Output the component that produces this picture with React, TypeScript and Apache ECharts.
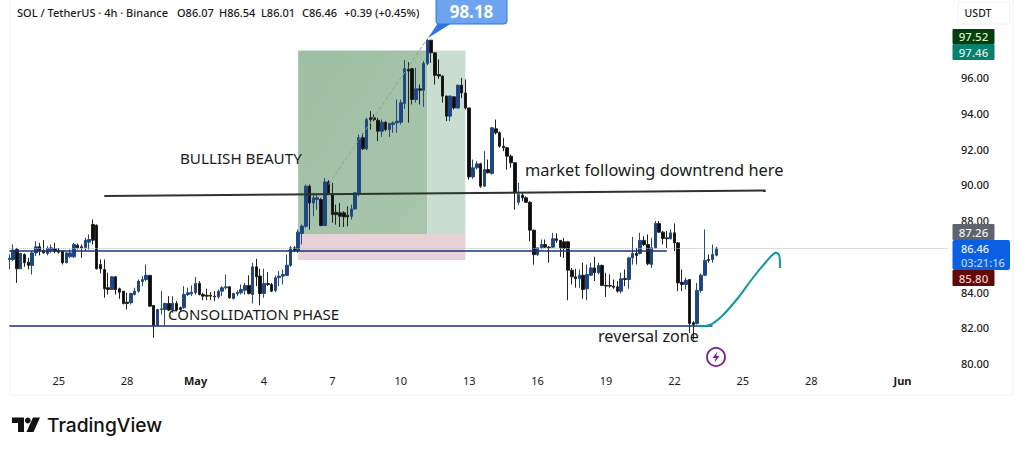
import React, { useEffect, useRef } from "react";
import * as echarts from "echarts";

const FONT = "'Noto Sans', sans-serif";
// [open, close, low, high]
const candles: number[][] = [
[85.83,85.91,85.27,86.11],[85.83,86.35,85.74,86.67],[86.39,85.31,84.52,86.48],[85.31,86.17,85.31,86.21],[86.11,85.65,85.42,86.17],[85.68,85.50,85.27,85.92],[85.50,86.20,84.99,86.30],[86.20,86.54,86.02,86.86],[86.54,86.30,86.06,86.76],[86.34,86.20,86.17,86.91],
[86.17,86.45,86.06,86.58],[86.35,86.48,86.20,86.67],[86.43,86.30,86.17,86.76],[86.35,86.24,86.17,86.48],[86.30,85.65,85.55,86.35],[85.65,86.20,85.61,86.24],[85.98,86.20,85.92,86.39],[85.98,86.67,85.92,86.76],[86.63,86.48,86.39,86.73],[86.54,86.48,85.92,86.67],
[86.48,86.91,86.30,87.04],[86.80,86.95,86.39,87.23],[87.79,86.91,86.67,88.07],[87.75,85.31,85.27,87.79],[85.55,85.31,85.05,85.83],[85.27,84.19,83.69,85.83],[84.25,84.15,83.87,85.09],[84.15,84.86,84.15,84.90],[84.86,84.15,83.87,84.90],[84.19,84.00,83.63,84.25],
[84.06,83.37,83.31,84.06],[83.44,83.37,83.03,83.97],[83.41,83.93,83.31,83.97],[83.87,84.06,83.82,84.25],[84.06,84.62,83.97,84.71],[84.60,84.71,84.34,84.90],[84.71,84.95,84.62,85.55],[84.94,83.22,83.18,84.94],[83.26,82.14,81.45,83.26],[82.14,83.03,82.14,83.07],
[83.03,83.07,82.75,84.06],[83.03,83.37,82.14,83.41],[83.37,83.00,82.94,83.78],[83.00,83.37,82.85,83.78],[83.37,83.00,82.94,83.50],[83.13,83.03,82.96,83.20],[83.13,83.87,83.07,84.34],[83.87,83.97,83.78,84.25],[83.91,84.00,83.78,84.38],[83.97,84.49,83.87,84.86],
[84.49,83.87,83.82,84.62],[83.87,83.78,83.55,83.97],[83.83,83.78,83.55,84.19],[83.83,83.78,83.55,84.00],[83.78,83.74,83.50,84.06],[83.74,84.06,83.63,84.15],[84.06,84.25,83.78,84.34],[84.25,84.30,84.15,84.99],[84.30,83.69,83.63,84.34],[83.65,83.93,83.59,83.97],
[83.91,84.00,83.78,84.11],[83.97,84.15,83.87,84.43],[84.11,84.38,83.87,84.52],[84.38,83.93,83.87,84.94],[83.87,85.42,83.37,85.65],[85.42,84.86,84.34,85.87],[84.90,83.93,83.26,85.31],[83.93,84.49,83.69,85.31],[84.49,84.43,84.34,85.12],[84.43,84.06,84.00,84.52],
[84.10,84.81,84.00,84.94],[84.81,84.90,84.34,85.18],[84.90,84.99,84.43,85.27],[84.94,85.51,84.90,86.11],[85.50,86.48,85.42,86.58],[86.48,86.30,86.24,86.58],[86.30,87.36,86.20,87.51],[87.29,87.70,86.67,87.79],[87.69,89.93,87.60,90.02],[89.93,88.99,87.50,90.02],
[88.99,89.28,88.25,89.56],[89.18,89.28,88.62,89.56],[89.18,87.73,87.69,89.28],[87.73,90.17,87.69,90.39],[90.17,89.52,89.46,90.27],[89.52,88.34,87.88,90.12],[88.47,88.34,87.78,88.90],[88.44,88.25,87.65,88.99],[88.44,88.21,87.65,88.53],[88.31,88.21,87.69,88.81],
[88.25,88.66,88.06,88.90],[88.66,89.56,88.62,89.59],[89.56,92.64,89.37,92.82],[92.64,92.02,91.95,92.90],[92.02,93.66,91.95,93.76],[93.76,93.66,93.10,94.13],[93.76,93.66,93.57,93.94],[93.62,93.01,92.45,93.76],[93.01,93.51,92.69,93.66],[93.51,93.10,93.01,93.57],
[93.10,93.44,92.69,93.47],[93.38,93.47,92.92,93.57],[93.47,93.57,92.92,94.78],[93.51,94.60,93.38,94.78],[94.56,96.50,94.26,96.98],[96.46,96.37,93.48,96.87],[96.50,94.78,94.50,96.55],[94.78,95.38,94.60,96.55],[95.38,95.30,94.50,95.62],[95.30,96.80,94.37,96.93],
[96.80,98.10,96.70,98.18],[98.10,97.39,96.83,98.10],[97.39,96.13,95.62,97.43],[96.18,96.09,95.94,97.02],[96.09,94.97,94.60,96.13],[94.97,93.85,93.57,95.00],[93.85,94.97,93.57,95.00],[94.93,94.31,94.22,94.97],[94.31,95.58,94.26,95.62],[95.58,95.15,94.87,95.99],
[95.15,94.31,94.22,95.90],[94.31,90.45,90.30,94.31],[90.45,90.96,90.34,91.42],[90.96,91.18,90.86,91.33],[91.18,89.93,89.84,91.24],[89.93,90.86,89.89,91.89],[90.86,90.68,90.64,91.42],[90.64,93.20,90.58,93.25],[93.14,92.92,92.82,93.66],[92.92,92.17,92.08,93.01],
[92.17,92.08,91.89,92.64],[92.08,91.61,90.86,92.13],[91.61,91.24,90.96,91.70],[91.24,89.56,88.62,91.28],[89.03,89.46,88.90,90.12],[89.43,89.28,89.09,89.56],[89.28,89.03,88.99,89.37],[89.03,87.47,86.85,89.09],[87.47,86.10,85.54,87.50],[86.11,86.48,86.02,86.48],
[86.48,86.67,86.39,86.95],[86.67,86.52,86.48,86.95],[86.52,86.48,85.65,86.58],[86.52,86.99,86.48,87.32],[86.99,86.90,86.76,87.29],[86.90,86.48,85.98,86.91],[86.82,86.45,85.92,87.04],[86.82,85.23,83.55,86.86],[85.23,84.86,84.43,85.36],[84.86,84.75,84.25,85.31],
[84.75,84.95,84.25,85.27],[84.95,84.15,83.63,85.65],[84.19,84.99,83.55,85.55],[84.95,85.36,84.90,85.65],[85.36,85.09,84.62,85.98],[85.09,85.50,85.00,85.65],[85.50,84.38,84.34,85.55],[84.38,84.34,83.74,85.09],[84.38,84.34,84.25,85.00],[84.34,84.28,84.19,84.71],
[84.30,84.06,83.97,84.62],[84.06,84.75,83.93,85.09],[84.77,84.71,84.34,85.27],[84.71,85.92,84.19,85.98],[85.92,86.17,85.55,87.10],[86.17,86.06,85.55,86.48],[86.17,86.90,86.11,87.32],[86.90,86.67,86.58,87.14],[86.67,85.59,85.50,87.23],[85.55,86.48,85.36,87.04],
[86.48,87.85,86.45,87.98],[87.85,87.36,87.32,87.98],[87.36,87.01,86.67,87.42],[87.04,86.99,86.48,87.42],[86.99,87.32,86.95,87.51],[87.32,86.76,86.30,87.85],[86.76,84.52,84.06,86.80],[84.56,84.43,84.06,85.27],[84.43,84.67,84.15,84.81],[84.71,82.25,81.73,84.71],
[82.29,82.19,81.35,82.38],[82.25,84.10,82.19,84.52],[84.10,84.95,83.97,85.05],[84.95,85.78,84.90,87.51],[85.83,85.78,85.65,86.11],[85.83,86.11,85.65,86.67],[86.07,86.46,86.01,86.54],
];

const SLOTS = 248;
const tickIndexes = [13, 31, 49, 67, 85, 103, 121, 139, 157, 175, 193, 211, 235];
const tickLabels = ["25", "28", "May", "4", "7", "10", "13", "16", "19", "22", "25", "28", "Jun"];
const categories = Array.from({ length: SLOTS }, (_, i) => {
  const t = tickIndexes.indexOf(i);
  return t >= 0 ? tickLabels[t] : String(i);
});

const targetHigh = 97.52;
const entry = 87.26;
const stop = 85.8;
const lastPrice = 86.46;
const supportUpper = 86.34;
const supportLower = 82.14;
const trendFrom = 89.38;
const trendTo = 89.69;
const pathFrom = 90.03;
const pathTo = 98.18;
const hiddenPriceTicks = [86, 98, 100];

export default function App() {
  const ref = useRef<HTMLDivElement>(null);
  useEffect(() => {
    const chart = echarts.init(ref.current!, null, { renderer: "svg" });
    const txt = (text: string, x: number, y: number, fontSize: number, extra: any = {}) => ({
      type: "text", x, y, z: 50,
      style: { text, fontSize, fontFamily: FONT, fill: "#1a1a1a", textVerticalAlign: "middle", verticalAlign: "middle", ...extra },
    });
    const tag = (label: string, y: number, h: number, fill: string, color: string, w = 42) => ([
      { type: "rect", z: 40, shape: { x: 952.5, y, width: w, height: h, r: 1 }, style: { fill } },
      txt(label, 973.5, y + h / 2, 11.5, { fill: color, align: "center", textAlign: "center", fontWeight: 500 }),
    ]);
    chart.setOption({
      animation: false,
      backgroundColor: "#ffffff",
      grid: { left: 7.4, right: 74, top: 6.2, bottom: 89.3 },
      xAxis: {
        type: "category",
        data: categories,
        boundaryGap: true,
        axisLine: { show: false },
        axisTick: { show: false },
        splitLine: { show: false },
        axisLabel: {
          interval: (i: number) => tickIndexes.includes(i),
          margin: 11.5,
          fontFamily: FONT,
          fontSize: 11,
          color: "#1a1a1a",
          formatter: (v: string) => (v === "May" || v === "Jun" ? `{b|${v}}` : v),
          rich: { b: { fontFamily: FONT, fontSize: 11, fontWeight: 700, color: "#1a1a1a" } },
        },
      },
      yAxis: {
        type: "value",
        position: "right",
        min: 80,
        max: 100,
        interval: 2,
        axisLine: { show: false },
        axisTick: { show: false },
        splitLine: { show: false },
        axisLabel: {
          margin: 11,
          fontFamily: FONT,
          fontSize: 11,
          fontWeight: 500,
          color: "#1a1a1a",
          formatter: (v: number) => (hiddenPriceTicks.includes(v) ? "" : v.toFixed(2)),
        },
      },
      series: [
        {
          type: "candlestick",
          data: candles,
          barWidth: 3,
          itemStyle: { color: "#1b4585", color0: "#0c0c0c", borderColor: "#234a86", borderColor0: "#222222", borderWidth: 1 },
          markArea: {
            silent: true,
            z: 1,
            data: [
              [{
                coord: [76, targetHigh],
                itemStyle: { color: { type: "linear", x: 0, y: 0, x2: 1, y2: 1, colorStops: [{ offset: 0, color: "#9ebfa3" }, { offset: 1, color: "#a9c6ac" }] } },
              }, { coord: [110, entry] }],
              [{ coord: [110, targetHigh], itemStyle: { color: "#c9ddd0" } }, { coord: [120, entry] }],
              [{ coord: [76, entry], itemStyle: { color: "#e9d2d7" } }, { coord: [120, stop] }],
            ],
          },
          markLine: {
            silent: true,
            symbol: "none",
            label: { show: false },
            data: [
              [{ coord: [0, lastPrice], lineStyle: { color: "#b9bfc4", width: 1, type: "dotted" } }, { coord: [247, lastPrice] }],
              [{ coord: [0, supportUpper], lineStyle: { color: "#1d2f7e", width: 1.6, type: "solid" } }, { coord: [173, supportUpper] }],
              [{ coord: [0, supportLower], lineStyle: { color: "#1d2f7e", width: 1.6, type: "solid" } }, { coord: [185, supportLower] }],
              [{ coord: [25, trendFrom], lineStyle: { color: "#2b352d", width: 2, type: "solid" } }, { coord: [199, trendTo] }],
              [{ coord: [84, pathFrom], lineStyle: { color: "#8aa88d", width: 1, type: "dashed" } }, { coord: [110, pathTo] }],
            ],
          },
        },
      ],
      graphic: [
        { type: "rect", z: 0, silent: true, shape: { x: 10, y: -2, width: 1003, height: 397 }, style: { fill: "none", stroke: "#f3f3f3", lineWidth: 1 } },
        txt("SOL / TetherUS · 4h · Binance", 17, 12, 11, { fontWeight: 500 }),
        txt("O86.07", 177, 12, 11, { fontWeight: 500 }),
        txt("H86.54", 219, 12, 11, { fontWeight: 500 }),
        txt("L86.01", 261, 12, 11, { fontWeight: 500 }),
        txt("C86.46", 302, 12, 11, { fontWeight: 500 }),
        txt("+0.39 (+0.45%)", 344, 12, 11, { fontWeight: 500 }),
        { type: "polygon", z: 40, shape: { points: [[428, 38], [440, 20], [452, 23]] }, style: { fill: "#2e74e6" } },
        { type: "rect", z: 41, shape: { x: 436, y: -4, width: 71, height: 28, r: 3 }, style: { fill: "#6ea4ef", stroke: "#2e74e6", lineWidth: 1 } },
        txt("98.18", 471.5, 11, 17, { fill: "#ffffff", align: "center", textAlign: "center", fontWeight: 700 }),
        { type: "rect", z: 40, shape: { x: 958, y: 2, width: 52, height: 22, r: 2 }, style: { fill: "#ffffff", stroke: "#f0f0f0" } },
        txt("USDT", 978, 13, 10.5, { align: "center", textAlign: "center", fontWeight: 500 }),
        ...tag("97.52", 29, 15, "#063d0c", "#d8f0c8"),
        ...tag("97.46", 44, 16, "#0a7f6b", "#d5f5ec"),
        ...tag("87.26", 224, 16, "#5f636e", "#eef0f2"),
        { type: "rect", z: 41, shape: { x: 952.5, y: 240, width: 57.5, height: 30, r: 2 }, style: { fill: "#0b5fe3" } },
        txt("86.46", 961, 248.5, 11, { fill: "#e8f1ff", fontWeight: 500 }),
        txt("03:21:16", 961, 262, 11, { fill: "#b9d4ff", fontWeight: 500 }),
        ...tag("85.80", 270, 16, "#5f0909", "#f6cccc"),
        txt("BULLISH BEAUTY", 180, 158, 15.2),
        txt("market following downtrend here", 525, 169, 16.4),
        txt("CONSOLIDATION PHASE", 168, 314, 15),
        txt("reversal zone", 598, 336, 16.2),
        {
          type: "polyline", z: 45,
          shape: { smooth: 0.35, points: [[698, 326], [710, 325], [722, 316], [738, 298], [752, 279], [766, 262], [775, 253], [779, 255], [780, 268]] },
          style: { fill: "none", stroke: "#0c9aa0", lineWidth: 2 },
        },
        { type: "circle", z: 45, shape: { cx: 716, cy: 357, r: 9 }, style: { fill: "#fff", stroke: "#7a1f8f", lineWidth: 1.8 } },
        { type: "polygon", z: 46, shape: { points: [[717.5, 351.5], [712.5, 358], [715.8, 358], [714.5, 362.5], [719.5, 356], [716.2, 356]] }, style: { fill: "#7a1f8f" } },
        { type: "polygon", z: 45, shape: { points: [[12, 417.5], [24, 417.5], [24, 432], [18, 432], [18, 423], [12, 423]] }, style: { fill: "#111" } },
        { type: "circle", z: 45, shape: { cx: 27.8, cy: 420.5, r: 2.9 }, style: { fill: "#111" } },
        { type: "polygon", z: 45, shape: { points: [[33, 417.5], [40, 417.5], [33.5, 432], [26.5, 432]] }, style: { fill: "#111" } },
        txt("TradingView", 47, 425, 19.2, { fontFamily: "Inter, sans-serif", fontWeight: 500, fill: "#111" }),
      ],
    });
    return () => chart.dispose();
  }, []);
  return <div ref={ref} style={{ position: "absolute", left: 0, top: 0, width: 1024, height: 453 }} />;
}
